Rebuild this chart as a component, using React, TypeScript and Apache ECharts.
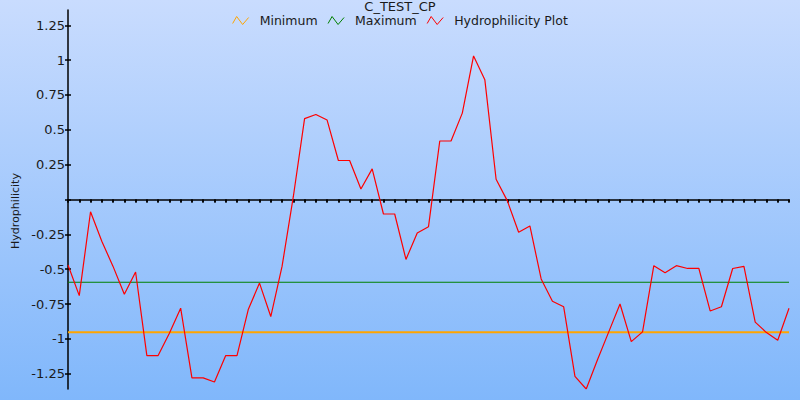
import React, { useEffect, useRef } from "react";
import * as echarts from "echarts";

const TITLE = "C_TEST_CP";
const Y_NAME = "Hydrophilicity";
const SERIES_NAMES = ["Minimum", "Maximum", "Hydrophilicity Plot"];
const SERIES_COLORS = ["#ffa500", "#008000", "#ff0000"];

// residue positions (category axis, no labels shown)
const positions: string[] = [
  "1","2","3","4","5","6","7","8","9","10","11","12","13","14","15","16","17","18","19","20",
  "21","22","23","24","25","26","27","28","29","30","31","32","33","34","35","36","37","38","39","40",
  "41","42","43","44","45","46","47","48","49","50","51","52","53","54","55","56","57","58","59","60",
  "61","62","63","64","65",
];

const hydrophilicity: number[] = [
  -0.47, -0.69, -0.088, -0.3, -0.48, -0.68, -0.52, -1.12, -1.12, -0.96,
  -0.78, -1.28, -1.28, -1.31, -1.12, -1.12, -0.79, -0.6, -0.84, -0.48,
  0.02, 0.58, 0.61, 0.57, 0.28, 0.28, 0.075, 0.22, -0.104, -0.104,
  -0.43, -0.24, -0.195, 0.42, 0.42, 0.62, 1.03, 0.86, 0.145, -0.01,
  -0.235, -0.19, -0.57, -0.73, -0.77, -1.27, -1.36, -1.15, -0.95, -0.75,
  -1.02, -0.95, -0.475, -0.525, -0.475, -0.495, -0.495, -0.8, -0.77, -0.495,
  -0.48, -0.88, -0.955, -1.01, -0.78,
];

const MINIMUM_VALUE = -0.953;
const MAXIMUM_VALUE = -0.594;

const Y_MIN = -1.36;
const Y_MAX = 1.36;
const yTickValues = [-1.25, -1, -0.75, -0.5, -0.25, 0, 0.25, 0.5, 0.75, 1, 1.25];
const yLabelValues = [-1.25, -1, -0.75, -0.5, -0.25, 0.25, 0.5, 0.75, 1, 1.25];

const FONT = "DejaVu Sans";
const ICON = "path://M0,7 L4,0 L10,8 L16,1";

export default function App() {
  const ref = useRef<HTMLDivElement>(null);

  useEffect(() => {
    if (!ref.current) return;
    const chart = echarts.init(ref.current, null, { renderer: "svg" });

    const minimumLine = positions.map(() => MINIMUM_VALUE);
    const maximumLine = positions.map(() => MAXIMUM_VALUE);

    const option: any = {
      animation: false,
      backgroundColor: {
        type: "linear",
        x: 0, y: 0, x2: 0, y2: 1,
        colorStops: [
          { offset: 0, color: "#c9dcfe" },
          { offset: 1, color: "#80b7fb" },
        ],
      },
      textStyle: { fontFamily: FONT },
      title: {
        text: TITLE,
        left: "center",
        top: 0,
        padding: 0,
        textStyle: { fontFamily: FONT, fontSize: 13, fontWeight: "normal", color: "#1a1a1a", lineHeight: 13 },
      },
      legend: {
        top: 14,
        left: "center",
        padding: 0,
        itemWidth: 16,
        itemHeight: 8,
        itemGap: 10,
        icon: ICON,
        textStyle: { fontFamily: FONT, fontSize: 12.5, color: "#1a1a1a", padding: [0, 0, 0, 6], lineHeight: 12 },
        data: SERIES_NAMES.map((n, i) => ({
          name: n,
          icon: ICON,
          itemStyle: { color: "transparent", borderColor: SERIES_COLORS[i], borderWidth: 1 },
        })),
      },
      grid: { left: 68, right: 11, top: 10, bottom: 11, containLabel: false },
      xAxis: [
        {
          type: "category",
          data: positions,
          boundaryGap: false,
          axisLine: { show: true, onZero: true, lineStyle: { color: "#000", width: 1.5 } },
          axisTick: { show: true, interval: 0, length: 3, inside: false, lineStyle: { color: "#000", width: 1.5 } },
          axisLabel: { show: false },
          splitLine: { show: false },
        },
        {
          type: "category",
          data: positions,
          boundaryGap: false,
          axisLine: { show: false, onZero: true },
          axisTick: { show: true, interval: 0, length: 3, inside: true, lineStyle: { color: "#000", width: 1.5 } },
          axisLabel: { show: false },
          splitLine: { show: false },
        },
      ],
      yAxis: [
        {
          type: "value",
          min: Y_MIN,
          max: Y_MAX,
          axisLine: { show: true, onZero: false, lineStyle: { color: "#000", width: 1.5 } },
          axisTick: { show: true, length: 3, inside: false, customValues: yTickValues, lineStyle: { color: "#000", width: 1.5 } },
          axisLabel: {
            show: true,
            customValues: yLabelValues,
            margin: 3,
            fontFamily: FONT,
            fontSize: 13,
            color: "#1a1a1a",
          },
          splitLine: { show: false },
        },
        {
          type: "value",
          min: Y_MIN,
          max: Y_MAX,
          position: "left",
          axisLine: { show: false, onZero: false },
          axisTick: { show: true, length: 3, inside: true, customValues: yTickValues, lineStyle: { color: "#000", width: 1.5 } },
          axisLabel: { show: false },
          splitLine: { show: false },
        },
      ],
      graphic: [
        {
          type: "text",
          x: 15,
          y: 211,
          rotation: Math.PI / 2,
          style: {
            text: Y_NAME,
            fontFamily: FONT,
            fontSize: 11,
            fill: "#1a1a1a",
            textAlign: "center",
            textVerticalAlign: "middle",
          },
        },
      ],
      series: [
        {
          name: SERIES_NAMES[0],
          type: "line",
          data: minimumLine,
          symbol: "none",
          color: SERIES_COLORS[0],
          lineStyle: { color: SERIES_COLORS[0], width: 2 },
        },
        {
          name: SERIES_NAMES[1],
          type: "line",
          data: maximumLine,
          symbol: "none",
          color: SERIES_COLORS[1],
          lineStyle: { color: SERIES_COLORS[1], width: 1.2 },
        },
        {
          name: SERIES_NAMES[2],
          type: "line",
          data: hydrophilicity,
          symbol: "none",
          color: SERIES_COLORS[2],
          lineStyle: { color: SERIES_COLORS[2], width: 1.2 },
        },
      ],
    };

    chart.setOption(option);
    return () => chart.dispose();
  }, []);

  return (
    <div
      ref={ref}
      style={{ position: "absolute", left: 0, top: 0, width: 800, height: 400 }}
    />
  );
}
